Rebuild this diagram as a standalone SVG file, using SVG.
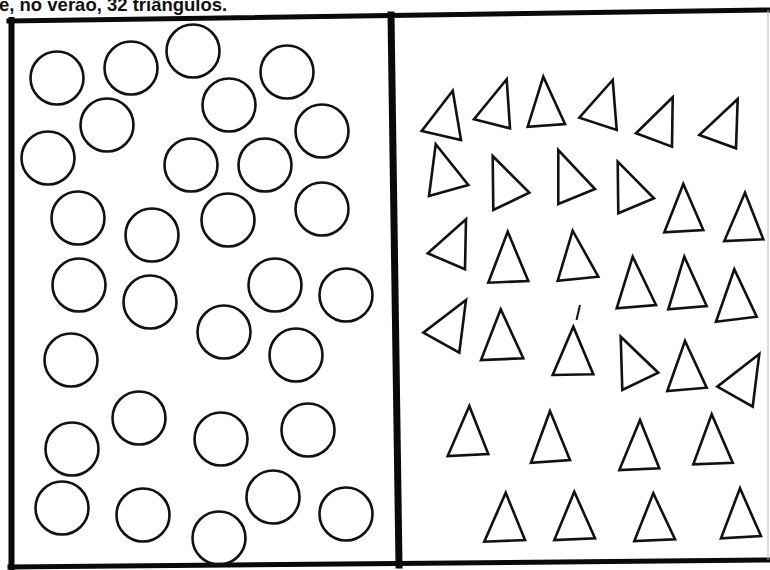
<svg xmlns="http://www.w3.org/2000/svg" width="770" height="570" viewBox="0 0 770 570">
<style>
.c{fill:none;stroke:#111;stroke-width:2.6}
.t{fill:none;stroke:#111;stroke-width:2.6;stroke-linejoin:miter}
.frame{stroke:#0a0a0a;fill:none;stroke-linecap:square}
.cap{font-family:"Liberation Sans",Arial,sans-serif;font-size:18.5px;font-weight:bold;fill:#111}
</style>
<rect width="770" height="570" fill="#fff"/>
<text class="cap" x="-1" y="10.5">e, no verão, 32 triângulos.</text>
<g id="frame">
<line class="frame" x1="9" y1="21" x2="770" y2="10" stroke-width="5"/>
<line class="frame" x1="11.5" y1="20" x2="11.5" y2="567" stroke-width="6"/>
<line class="frame" x1="391" y1="15" x2="399" y2="565" stroke-width="7"/>
<line class="frame" x1="10" y1="567" x2="770" y2="560" stroke-width="5"/>
<line x1="768" y1="10" x2="768" y2="560" stroke="#bbb" stroke-width="1"/>
</g>
<g id="circles">
<g id="c1"><circle class="c" cx="57" cy="78" r="26.5"/></g>
<g id="c2"><circle class="c" cx="131" cy="68" r="26.5"/></g>
<g id="c3"><circle class="c" cx="193" cy="51" r="26.5"/></g>
<g id="c4"><circle class="c" cx="287" cy="72" r="26.5"/></g>
<g id="c5"><circle class="c" cx="107" cy="125" r="26.5"/></g>
<g id="c6"><circle class="c" cx="229" cy="105" r="26.5"/></g>
<g id="c7"><circle class="c" cx="322" cy="131" r="26.5"/></g>
<g id="c8"><circle class="c" cx="48" cy="158" r="26.5"/></g>
<g id="c9"><circle class="c" cx="191" cy="165" r="26.5"/></g>
<g id="c10"><circle class="c" cx="265" cy="165" r="26.5"/></g>
<g id="c11"><circle class="c" cx="78" cy="218" r="26.5"/></g>
<g id="c12"><circle class="c" cx="152" cy="235" r="26.5"/></g>
<g id="c13"><circle class="c" cx="228" cy="220" r="26.5"/></g>
<g id="c14"><circle class="c" cx="322" cy="209" r="26.5"/></g>
<g id="c15"><circle class="c" cx="79" cy="285" r="26.5"/></g>
<g id="c16"><circle class="c" cx="150" cy="302" r="26.5"/></g>
<g id="c17"><circle class="c" cx="275" cy="285" r="26.5"/></g>
<g id="c18"><circle class="c" cx="346" cy="295" r="26.5"/></g>
<g id="c19"><circle class="c" cx="224" cy="332" r="26.5"/></g>
<g id="c20"><circle class="c" cx="71" cy="360" r="26.5"/></g>
<g id="c21"><circle class="c" cx="296" cy="355" r="26.5"/></g>
<g id="c22"><circle class="c" cx="139" cy="418" r="26.5"/></g>
<g id="c23"><circle class="c" cx="221" cy="439" r="26.5"/></g>
<g id="c24"><circle class="c" cx="308" cy="430" r="26.5"/></g>
<g id="c25"><circle class="c" cx="72" cy="449" r="26.5"/></g>
<g id="c26"><circle class="c" cx="62" cy="508" r="26.5"/></g>
<g id="c27"><circle class="c" cx="143" cy="515" r="26.5"/></g>
<g id="c28"><circle class="c" cx="219" cy="538" r="26.5"/></g>
<g id="c29"><circle class="c" cx="273" cy="497" r="26.5"/></g>
<g id="c30"><circle class="c" cx="346" cy="514" r="26.5"/></g>
</g>
<g id="triangles">
<g id="t1"><polygon class="t" points="452.7,90.7 421.7,131 461,140"/></g>
<g id="t2"><polygon class="t" points="506.7,79.3 474,119.3 510,128.3"/></g>
<g id="t3"><polygon class="t" points="543.3,76.7 527.7,126.7 565,124"/></g>
<g id="t4"><polygon class="t" points="612.7,80 579.3,117.7 616.7,130"/></g>
<g id="t5"><polygon class="t" points="672.7,97.3 636,133.3 672,146.7"/></g>
<g id="t6"><polygon class="t" points="737.7,99 699.3,135 736,148.3"/></g>
<g id="t7"><polygon class="t" points="435.7,144.3 429,196 468.3,185"/></g>
<g id="t8"><polygon class="t" points="492.7,156 493.3,210 529.3,192.7"/></g>
<g id="t9"><polygon class="t" points="558.3,150 558.3,204 595,189"/></g>
<g id="t10"><polygon class="t" points="617.7,161.7 618.3,213.3 654,198.3"/></g>
<g id="t11"><polygon class="t" points="683.3,184 664.3,232.3 703.3,230"/></g>
<g id="t12"><polygon class="t" points="745,192.7 724.3,241 763.3,239.3"/></g>
<g id="t13"><polygon class="t" points="466,219.3 427.7,253.3 465,269.3"/></g>
<g id="t14"><polygon class="t" points="507.7,231.7 488.3,282.7 528.3,281"/></g>
<g id="t15"><polygon class="t" points="572.7,230.7 557.7,280.7 598.3,276.7"/></g>
<g id="t16"><polygon class="t" points="632.7,256.7 616.7,308.3 656,305"/></g>
<g id="t17"><polygon class="t" points="684.3,256.7 668.3,309.3 706.7,306"/></g>
<g id="t18"><polygon class="t" points="734.3,269.3 716,321.7 756.7,316.7"/></g>
<g id="t19"><polygon class="t" points="466,300 423.3,332.7 459.3,352.7"/></g>
<g id="t20"><polygon class="t" points="500.7,309.3 481,360 523.3,358.3"/></g>
<g id="t21"><polygon class="t" points="573.3,326.7 552.7,375 593.3,374.3"/><line x1="580" y1="305" x2="576.5" y2="320" stroke="#111" stroke-width="2"/></g>
<g id="t22"><polygon class="t" points="620.7,336.7 622.3,390 658.3,372.7"/></g>
<g id="t23"><polygon class="t" points="685,341 667.3,391 706.7,387.7"/></g>
<g id="t24"><polygon class="t" points="759.3,354 717.3,386.7 752.7,406.7"/></g>
<g id="t25"><polygon class="t" points="469.3,406 447.7,456 488.3,454"/></g>
<g id="t26"><polygon class="t" points="550,411 531,462.7 570,460"/></g>
<g id="t27"><polygon class="t" points="640,420 619.3,470 659.3,468.3"/></g>
<g id="t28"><polygon class="t" points="711.7,414.3 693.3,464.3 732.7,462.7"/></g>
<g id="t29"><polygon class="t" points="505.7,492.7 484.3,541.7 525,540"/></g>
<g id="t30"><polygon class="t" points="574.3,491.7 554.3,540 595,538.3"/></g>
<g id="t31"><polygon class="t" points="653.3,493.3 634.3,541 675,539.3"/></g>
<g id="t32"><polygon class="t" points="740,488.3 721,538.3 761,536"/></g>
</g>
</svg>
